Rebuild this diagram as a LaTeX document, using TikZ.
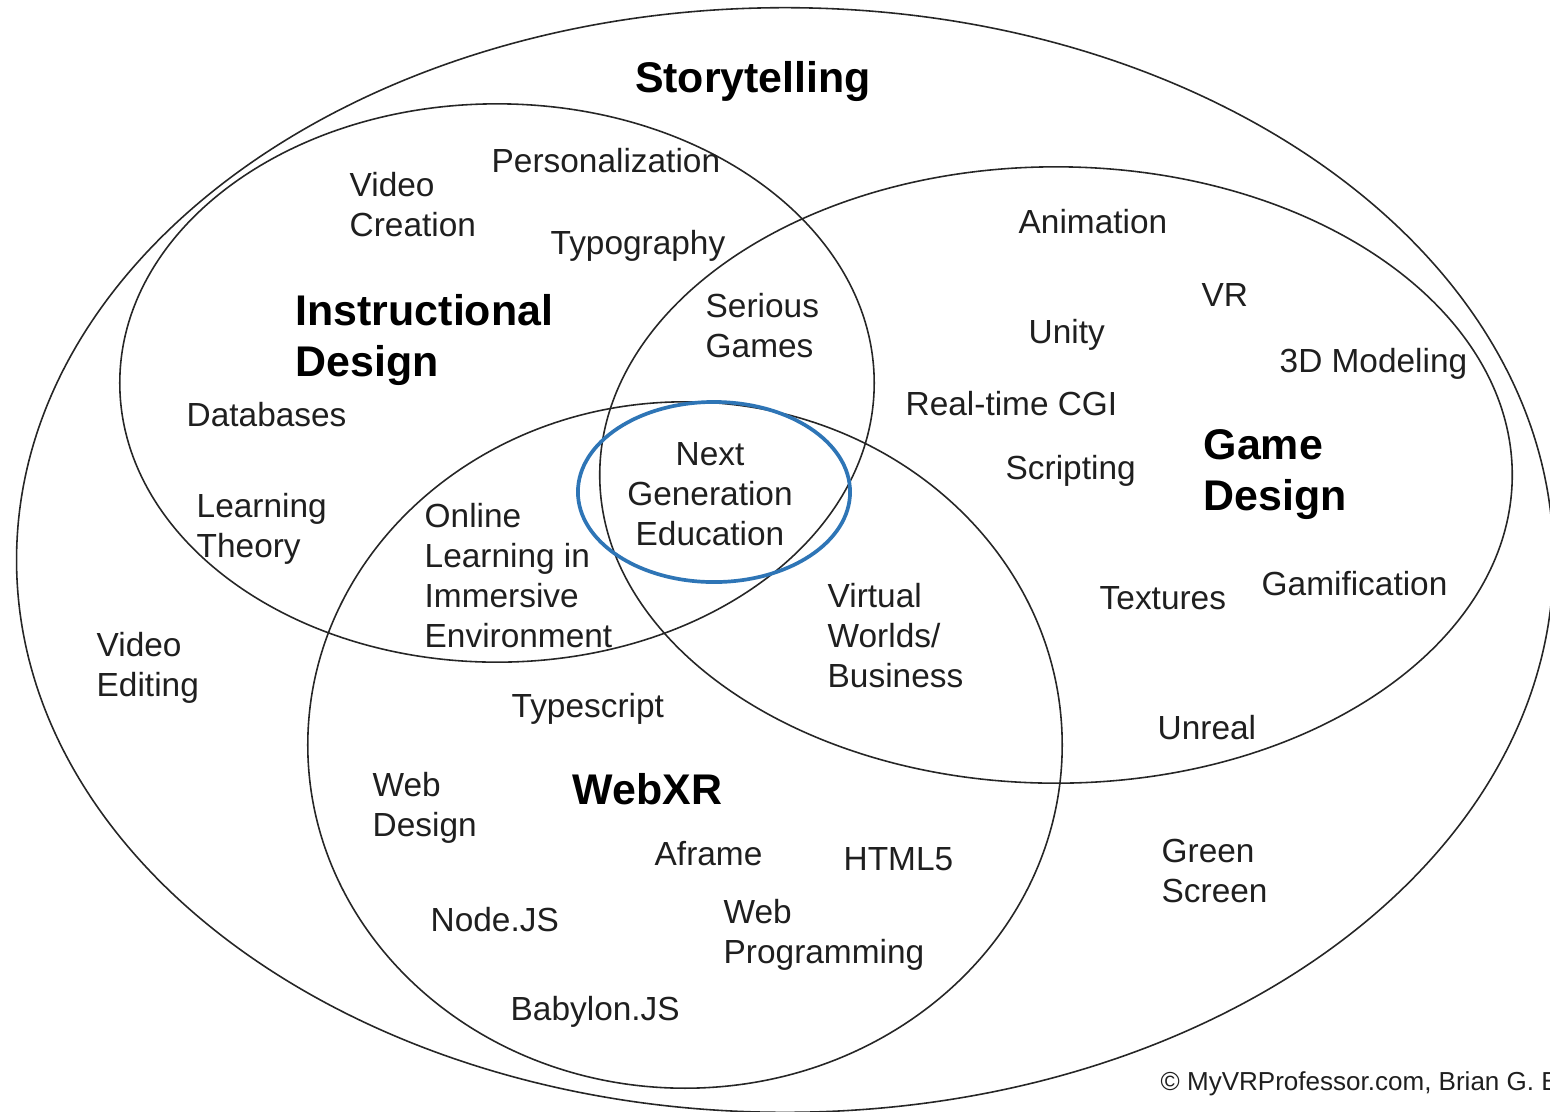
\documentclass[tikz,border=0pt]{standalone}
\usepackage{fontspec}
\setmainfont{Liberation Sans}
\newcommand{\mlines}[1]{\begin{tabular}[t]{@{}l@{}}#1\end{tabular}}
\newcommand{\clines}[1]{\begin{tabular}[t]{@{}c@{}}#1\end{tabular}}
\definecolor{vennblue}{RGB}{46,117,182}
\begin{document}
\begin{tikzpicture}[x=0.01cm,y=-0.01cm,
  lbl/.style={inner sep=0pt, anchor=base west, text=black!88, font=\fontsize{9.5}{11.4}\selectfont},
  ttl/.style={inner sep=0pt, anchor=base west, text=black, font=\fontsize{12.2}{14.6}\selectfont\bfseries},
  ring/.style={draw=black!85, line width=0.45pt},
  hilite/.style={draw=vennblue, line width=1.05pt}]
\useasboundingbox (0,0) rectangle (1550,1111);
\clip (0,0) rectangle (1550,1111);
\fill[white] (0,0) rectangle (1550,1111);

% sets
\draw[ring] (785,560) ellipse [x radius=7.68cm, y radius=5.52cm];
\draw[ring] (497,383) ellipse [x radius=3.77cm, y radius=2.79cm];
\draw[ring] (1056,475) ellipse [x radius=4.56cm, y radius=3.08cm];
\draw[ring] (685,745) ellipse [x radius=3.77cm, y radius=3.43cm];
\draw[hilite] (714,492) ellipse [x radius=1.36cm, y radius=0.90cm];

% titles
\node[ttl, anchor=base] (story) at (753,92) {Storytelling};
\node[ttl] (instr) at (295,325) {\mlines{Instructional\\Design}};
\node[ttl] (game) at (1203,459) {\mlines{Game\\Design}};
\node[ttl] (webxr) at (572,804) {WebXR};

% instructional design
\node[lbl] (vidcre) at (349,196) {\mlines{Video\\Creation}};
\node[lbl] (pers) at (491,172) {Personalization};
\node[lbl] (typo) at (550,254) {Typography};
\node[lbl] (db) at (186,426) {Databases};
\node[lbl] (learn) at (196,517) {\mlines{Learning\\Theory}};

% intersections
\node[lbl] (serious) at (705,317) {\mlines{Serious\\Games}};
\node[lbl, anchor=base] (nextgen) at (710,465) {\clines{Next\\Generation\\Education}};
\node[lbl] (online) at (424,527) {\mlines{Online\\Learning in\\Immersive\\Environment}};
\node[lbl] (virtual) at (827,607) {\mlines{Virtual\\Worlds/\\Business}};

% storytelling only
\node[lbl] (videdit) at (96,656) {\mlines{Video\\Editing}};
\node[lbl] (green) at (1161,862) {\mlines{Green\\Screen}};

% game design
\node[lbl] (anim) at (1018,233) {Animation};
\node[lbl] (vr) at (1201,306) {VR};
\node[lbl] (unity) at (1028,343) {Unity};
\node[lbl] (model) at (1279,372) {3D Modeling};
\node[lbl] (cgi) at (905,415) {Real-time CGI};
\node[lbl] (script) at (1005,479) {Scripting};
\node[lbl] (textures) at (1099,609) {Textures};
\node[lbl] (gamif) at (1261,595) {Gamification};
\node[lbl] (unreal) at (1157,739) {Unreal};

% webxr
\node[lbl] (typescript) at (511,717) {Typescript};
\node[lbl] (webdes) at (372,796) {\mlines{Web\\Design}};
\node[lbl] (aframe) at (654,865) {Aframe};
\node[lbl] (html) at (843,870) {HTML5};
\node[lbl] (nodejs) at (430,931) {Node.JS};
\node[lbl] (webprog) at (723,923) {\mlines{Web\\Programming}};
\node[lbl] (babylon) at (510,1020) {Babylon.JS};

% credit
\node[inner sep=0pt, anchor=base west, text=black!88, font=\fontsize{7.4}{9}\selectfont] (credit) at (1160,1090) {© MyVRProfessor.com, Brian G. Burton};
\end{tikzpicture}
\end{document}
